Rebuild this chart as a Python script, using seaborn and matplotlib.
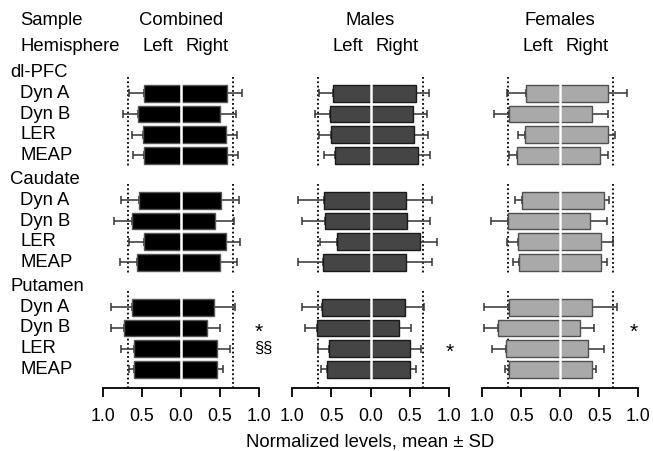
import numpy as np
import pandas as pd
import seaborn as sns
import matplotlib
matplotlib.use("Agg", force=True)
import matplotlib.pyplot as plt
import matplotlib.transforms as mtransforms

# rows: dl-PFC, Caudate, Putamen x (Dyn A, Dyn B, LER, MEAP)
regions = ["dl-PFC", "Caudate", "Putamen"]
markers = ["Dyn A", "Dyn B", "LER", "MEAP"]
panels = ["Combined", "Males", "Females"]

combined_left = [0.47, 0.55, 0.48, 0.47, 0.54, 0.62, 0.475, 0.565, 0.63, 0.73, 0.595, 0.595]
combined_left_sd = [0.19, 0.185, 0.14, 0.14, 0.23, 0.24, 0.185, 0.215, 0.26, 0.16, 0.165, 0.065]
combined_right = [0.59, 0.505, 0.58, 0.59, 0.51, 0.435, 0.58, 0.495, 0.43, 0.33, 0.465, 0.465]
combined_right_sd = [0.19, 0.195, 0.14, 0.14, 0.24, 0.245, 0.18, 0.225, 0.26, 0.165, 0.165, 0.07]

males_left = [0.48, 0.52, 0.50, 0.45, 0.595, 0.58, 0.43, 0.61, 0.62, 0.69, 0.535, 0.56]
males_left_sd = [0.18, 0.185, 0.16, 0.15, 0.335, 0.295, 0.22, 0.32, 0.255, 0.15, 0.135, 0.08]
males_right = [0.58, 0.54, 0.56, 0.61, 0.46, 0.47, 0.63, 0.45, 0.435, 0.37, 0.51, 0.50]
males_right_sd = [0.17, 0.18, 0.17, 0.15, 0.33, 0.29, 0.22, 0.33, 0.245, 0.15, 0.14, 0.08]

females_left = [0.435, 0.65, 0.445, 0.55, 0.495, 0.667, 0.535, 0.525, 0.65, 0.80, 0.69, 0.65]
females_left_sd = [0.245, 0.20, 0.095, 0.10, 0.085, 0.213, 0.145, 0.075, 0.325, 0.175, 0.18, 0.06]
females_right = [0.615, 0.405, 0.61, 0.505, 0.555, 0.385, 0.52, 0.525, 0.40, 0.25, 0.36, 0.40]
females_right_sd = [0.24, 0.205, 0.09, 0.105, 0.075, 0.215, 0.15, 0.07, 0.32, 0.18, 0.195, 0.06]

ref_line = 0.67
tick_vals = [-1, -0.5, 0, 0.5, 1]
tick_labels = ["1.0", "0.5", "0.0", "0.5", "1.0"]

# significance marks: (panel, region, marker, text, x)
marks = [
    ("Combined", "Putamen", "Dyn B", "*", 0.99),
    ("Combined", "Putamen", "LER", "§§", 1.05),
    ("Males", "Putamen", "LER", "*", 1.01),
    ("Females", "Putamen", "Dyn B", "*", 0.94),
]

styles = {
    "Combined": ("#000000", "#555555"),
    "Males": ("#454545", "#1a1a1a"),
    "Females": ("#a9a9a9", "#505050"),
}

values = {
    "Combined": (combined_left, combined_left_sd, combined_right, combined_right_sd),
    "Males": (males_left, males_left_sd, males_right, males_right_sd),
    "Females": (females_left, females_left_sd, females_right, females_right_sd),
}

group_step = 5.17
header_pos = [g * group_step for g in range(len(regions))]
row_pos = {(r, m): header_pos[g] + 1 + i
           for g, r in enumerate(regions) for i, m in enumerate(markers)}

sns.set_theme(style="white")
plt.rcParams["font.family"] = ["Liberation Sans", "DejaVu Sans"]
plt.rcParams["text.color"] = "black"
plt.rcParams["xtick.color"] = "black"
plt.rcParams["axes.labelcolor"] = "black"

FS = 13.3

fig = plt.figure(figsize=(6.53, 4.51), dpi=100)
W, H = 653, 451
ylim = (15.24, -3.51)
lefts = [102.7, 292.4, 482.1]
width_px = 156.3

axes = []
for k, panel in enumerate(panels):
    ax = fig.add_axes([lefts[k] / W, (H - 388) / H, width_px / W, 388 / H])
    axes.append(ax)
    lm, lsd, rm, rsd = values[panel]
    rows = []
    for g, r in enumerate(regions):
        for i, m in enumerate(markers):
            j = g * 4 + i
            rows.append({"region": r, "marker": m, "pos": row_pos[(r, m)],
                         "left": -lm[j], "left_sd": lsd[j],
                         "right": rm[j], "right_sd": rsd[j]})
    df = pd.DataFrame(rows)
    fill, edge = styles[panel]

    for side in ["left", "right"]:
        sns.barplot(data=df, x=side, y="pos", orient="y", native_scale=True,
                    color=fill, saturation=1, edgecolor=edge, linewidth=1,
                    width=0.8, errorbar=None, ax=ax, zorder=3)
    ax.errorbar(df["left"], df["pos"], xerr=[df["left_sd"], np.zeros(len(df))],
                fmt="none", ecolor="#333333", elinewidth=1.1, capsize=3, capthick=1.1, zorder=2)
    ax.errorbar(df["right"], df["pos"], xerr=[np.zeros(len(df)), df["right_sd"]],
                fmt="none", ecolor="#333333", elinewidth=1.1, capsize=3, capthick=1.1, zorder=2)

    for g, h in enumerate(header_pos):
        # white gap between left and right bars
        ax.vlines(0, h + 0.5, h + 4.5, colors="white", lw=1.8, zorder=4)
        # dotted reference lines per region block
        top = h + 0.2
        bottom = h + 4.62 if g < len(regions) - 1 else ylim[0]
        ax.vlines([-ref_line, ref_line], top, bottom, colors="black",
                  linestyles=(0, (1, 1.4)), lw=1.3, zorder=1)

    ax.set_xlim(-1, 1)
    ax.set_ylim(*ylim)
    ax.set_xticks(tick_vals)
    ax.set_xticklabels(tick_labels, fontsize=12.8)
    ax.set_yticks([])
    ax.set_ylabel("")
    ax.set_xlabel("")
    for s in ["top", "right", "left"]:
        ax.spines[s].set_visible(False)
    ax.spines["bottom"].set_color("black")
    ax.spines["bottom"].set_linewidth(1.3)
    ax.tick_params(axis="x", direction="out", length=6.5, width=1.3, color="black",
                   pad=8, bottom=True)
    ax.set_facecolor("none")

    ax.text(0, -2.51, panel, ha="center", va="center", fontsize=FS, zorder=5)
    ax.text(-0.29, -1.25, "Left", ha="center", va="center", fontsize=FS, zorder=5)
    ax.text(0.34, -1.25, "Right", ha="center", va="center", fontsize=FS, zorder=5)

    for p, r, m, t, x in marks:
        if p == panel:
            ax.text(x, row_pos[(r, m)] + (0.2 if t == "*" else 0), t, ha="center",
                    va="center", fontsize=15 if t == "*" else 12, clip_on=False)

axes[1].set_xlabel("Normalized levels, mean ± SD", fontsize=FS, labelpad=6)

# left-hand labels
trans = mtransforms.blended_transform_factory(fig.transFigure, axes[0].transData)
fig.text(20 / W, -2.51, "Sample", transform=trans, va="center", fontsize=FS)
fig.text(20 / W, -1.25, "Hemisphere", transform=trans, va="center", fontsize=FS)
for g, r in enumerate(regions):
    fig.text(10 / W, header_pos[g], r, transform=trans, va="center", fontsize=FS)
    for m in markers:
        fig.text(20 / W, row_pos[(r, m)], m, transform=trans, va="center", fontsize=FS)

fig.savefig("out.png", dpi=100)
